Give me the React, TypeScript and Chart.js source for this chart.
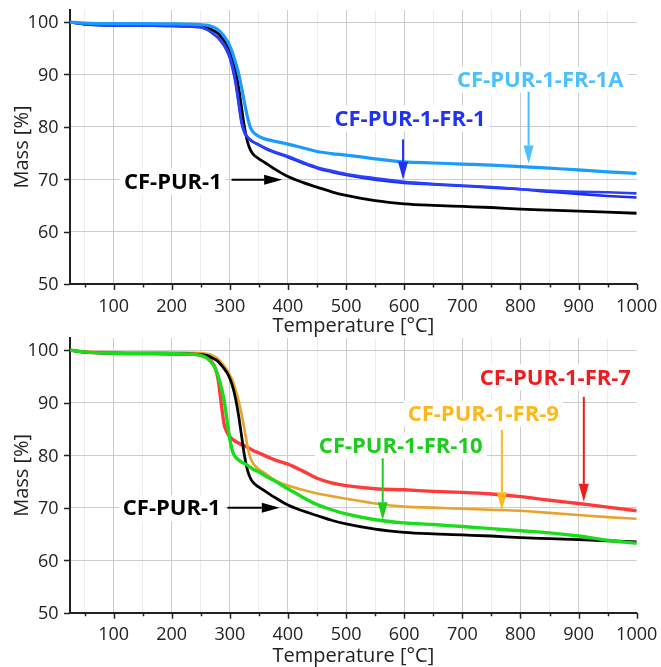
import React, { useEffect, useRef } from "react";
import { Chart, registerables } from "chart.js";

Chart.register(...registerables);

// ---- data ----
const temps = [25, 50, 100, 150, 200, 230, 250, 260, 270, 275, 280, 285, 290, 295, 300, 305, 310, 315, 320, 325, 330, 335, 340, 350, 360, 375, 400, 425, 450, 475, 500, 550, 600, 650, 700, 750, 800, 850, 900, 950, 1000];

const massPUR1 = [100, 99.6, 99.4, 99.35, 99.3, 99.25, 99.2, 99.0, 98.5, 98.2, 97.8, 97.2, 96.5, 95.7, 94.6, 93.0, 90.7, 87.6, 83.8, 80.0, 77.3, 75.7, 74.8, 73.9, 73.2, 72.1, 70.5, 69.4, 68.5, 67.6, 66.9, 65.9, 65.3, 65.0, 64.8, 64.6, 64.3, 64.1, 63.9, 63.7, 63.5];

const massFR1a = [100, 99.6, 99.35, 99.3, 99.25, 99.15, 99.0, 98.6, 97.9, 97.5, 97.0, 96.4, 95.7, 94.8, 93.5, 91.4, 88.6, 85.0, 81.2, 79.1, 78.1, 77.6, 77.2, 76.6, 76.0, 75.3, 74.4, 73.3, 72.3, 71.6, 71.0, 70.2, 69.5, 69.1, 68.8, 68.5, 68.1, 67.8, 67.6, 67.5, 67.3];

const massFR1b = [100, 99.6, 99.35, 99.3, 99.25, 99.15, 99.0, 98.6, 97.9, 97.5, 97.0, 96.3, 95.5, 94.5, 93.1, 91.0, 88.2, 84.5, 80.8, 78.9, 78.0, 77.5, 77.1, 76.5, 75.9, 75.2, 74.2, 73.1, 72.1, 71.4, 70.8, 69.9, 69.3, 69.0, 68.7, 68.4, 68.1, 67.6, 67.2, 66.8, 66.5];

const massFR1A = [100, 99.8, 99.7, 99.7, 99.65, 99.6, 99.5, 99.4, 99.1, 98.9, 98.5, 98.0, 97.3, 96.5, 95.4, 94.0, 92.2, 90.2, 87.6, 84.7, 82.0, 80.0, 79.0, 78.2, 77.7, 77.3, 76.7, 76.0, 75.3, 74.9, 74.6, 73.9, 73.3, 73.1, 72.9, 72.7, 72.4, 72.1, 71.8, 71.4, 71.1];

const massFR7 = [100, 99.6, 99.4, 99.35, 99.3, 99.2, 99.0, 98.6, 97.6, 96.6, 94.3, 90.0, 86.0, 84.4, 83.5, 83.0, 82.6, 82.3, 82.0, 81.8, 81.5, 81.2, 80.9, 80.4, 79.9, 79.2, 78.3, 77.0, 75.6, 74.7, 74.2, 73.6, 73.4, 73.1, 72.9, 72.6, 72.1, 71.4, 70.8, 70.1, 69.4];

const massFR9 = [100, 99.7, 99.6, 99.6, 99.55, 99.5, 99.45, 99.3, 99.0, 98.7, 98.3, 97.7, 97.0, 96.2, 95.3, 94.1, 92.4, 90.4, 87.9, 85.0, 81.9, 79.6, 78.4, 77.3, 76.6, 75.4, 74.2, 73.4, 72.7, 72.2, 71.7, 70.8, 70.2, 70.0, 69.8, 69.6, 69.4, 69.0, 68.6, 68.2, 67.9];

const massFR10 = [100, 99.6, 99.4, 99.35, 99.3, 99.2, 99.0, 98.5, 97.4, 96.5, 95.0, 93.0, 90.5, 86.8, 83.0, 80.6, 79.6, 79.1, 78.7, 78.4, 78.1, 77.7, 77.3, 76.8, 76.1, 75.2, 73.6, 72.0, 70.6, 69.6, 68.8, 67.7, 67.1, 66.8, 66.4, 66.0, 65.6, 65.2, 64.6, 63.8, 63.2];

const xTickValues = [50, 100, 150, 200, 250, 300, 350, 400, 450, 500, 550, 600, 650, 700, 750, 800, 850, 900, 950, 1000];
const yTickValues = [50, 60, 70, 80, 90, 100];

const xTitle = "Temperature [°C]";
const yTitle = "Mass [%]";

// annotations (text, anchor in data coords, arrow in data coords)
const topNotes = [
  { text: "CF-PUR-1", color: "#000000", x: 202, y: 69.6, from: [303, 69.9], to: [390, 69.9] },
  { text: "CF-PUR-1-FR-1", color: "#1f33f0", x: 610, y: 81.6, from: [598, 77.6], to: [598, 69.9] },
  { text: "CF-PUR-1-FR-1A", color: "#4cbfff", x: 834, y: 89.0, from: [814, 86.7], to: [814, 73.0] },
];
const bottomNotes = [
  { text: "CF-PUR-1", color: "#000000", x: 200, y: 69.9, from: [296, 70.0], to: [386, 70.0] },
  { text: "CF-PUR-1-FR-10", color: "#1ecc1e", x: 594, y: 81.8, from: [563, 79.4], to: [563, 67.6] },
  { text: "CF-PUR-1-FR-9", color: "#ffb81c", x: 736, y: 87.9, from: [768, 84.8], to: [768, 69.5] },
  { text: "CF-PUR-1-FR-7", color: "#ee1c1c", x: 860, y: 94.8, from: [909, 91.1], to: [909, 71.1] },
];

const FONT = '"Open Sans", "DejaVu Sans", sans-serif';

function toPts(vals: number[]) {
  return temps.map((t, i) => ({ x: t, y: vals[i] }));
}

function ds(label: string, vals: number[], color: string, width: number) {
  return {
    label,
    data: toPts(vals),
    borderColor: color,
    backgroundColor: color,
    borderWidth: width,
    pointRadius: 0,
    fill: false,
    cubicInterpolationMode: "monotone" as const,
  };
}

const overlayPlugin = {
  id: "overlay",
  beforeDatasetsDraw(chart: any, _a: any, opts: any) {
    const ctx = chart.ctx;
    const xs = chart.scales.x;
    const ys = chart.scales.y;
    ctx.save();
    ctx.font = `bold 22px ${FONT}`;
    for (const n of opts.notes || []) {
      const px = xs.getPixelForValue(n.x);
      const py = ys.getPixelForValue(n.y);
      const w = ctx.measureText(n.text).width;
      ctx.fillStyle = "#ffffff";
      ctx.fillRect(px - w / 2 - 4, py - 13, w + 8, 26);
    }
    ctx.restore();
  },
  afterDatasetsDraw(chart: any, _a: any, opts: any) {
    const ctx = chart.ctx;
    const xs = chart.scales.x;
    const ys = chart.scales.y;
    ctx.save();
    ctx.font = `bold 22px ${FONT}`;
    ctx.textAlign = "center";
    ctx.textBaseline = "middle";
    for (const n of opts.notes || []) {
      const px = xs.getPixelForValue(n.x);
      const py = ys.getPixelForValue(n.y);
      ctx.fillStyle = n.color;
      ctx.fillText(n.text, px, py + 1);
      const x1 = xs.getPixelForValue(n.from[0]);
      const y1 = ys.getPixelForValue(n.from[1]);
      const x2 = xs.getPixelForValue(n.to[0]);
      const y2 = ys.getPixelForValue(n.to[1]);
      const ang = Math.atan2(y2 - y1, x2 - x1);
      const hl = 18;
      const hw = 5;
      const bx = x2 - hl * Math.cos(ang);
      const by = y2 - hl * Math.sin(ang);
      ctx.strokeStyle = n.color;
      ctx.lineWidth = 2;
      ctx.beginPath();
      ctx.moveTo(x1, y1);
      ctx.lineTo(bx, by);
      ctx.stroke();
      ctx.beginPath();
      ctx.moveTo(x2, y2);
      ctx.lineTo(bx + hw * Math.sin(ang), by - hw * Math.cos(ang));
      ctx.lineTo(bx - hw * Math.sin(ang), by + hw * Math.cos(ang));
      ctx.closePath();
      ctx.fill();
    }
    ctx.restore();
  },
  afterDraw(chart: any, _a: any, opts: any) {
    const ctx = chart.ctx;
    const xs = chart.scales.x;
    const ys = chart.scales.y;
    const area = chart.chartArea;
    ctx.save();
    ctx.strokeStyle = "#222222";
    ctx.lineWidth = 1.5;
    ctx.beginPath();
    for (const v of xTickValues) {
      const px = Math.round(xs.getPixelForValue(v)) + 0.5;
      const len = v % 100 === 0 ? 6 : 3.5;
      ctx.moveTo(px, area.bottom);
      ctx.lineTo(px, area.bottom + len);
    }
    for (const v of yTickValues) {
      const py = Math.round(ys.getPixelForValue(v)) + 0.5;
      ctx.moveTo(area.left, py);
      ctx.lineTo(area.left - 6, py);
    }
    ctx.stroke();
    // tick labels
    ctx.fillStyle = "#222222";
    ctx.font = `18px ${FONT}`;
    ctx.textBaseline = "alphabetic";
    ctx.textAlign = "center";
    for (const v of xTickValues) {
      if (v % 100 !== 0) continue;
      ctx.fillText(String(v), xs.getPixelForValue(v), area.bottom + 27.5);
    }
    ctx.textAlign = "right";
    for (const v of yTickValues) {
      ctx.fillText(String(v), 58.5, ys.getPixelForValue(v) + 6.4);
    }
    // titles
    ctx.font = `20px ${FONT}`;
    ctx.textAlign = "center";
    ctx.fillText(xTitle, (area.left + area.right) / 2, area.bottom + opts.xTitleOffset);
    ctx.translate(27.5, (area.top + area.bottom) / 2);
    ctx.rotate(-Math.PI / 2);
    ctx.fillText(yTitle, 0, 0);
    ctx.restore();
  },
};

function makeConfig(datasets: any[], notes: any[], padTop: number, xHeight: number, xTitleOffset: number) {
  return {
    type: "line" as const,
    data: { datasets },
    plugins: [overlayPlugin],
    options: {
      responsive: false,
      animation: false as const,
      devicePixelRatio: 1,
      layout: { padding: { top: padTop, right: 24.3, left: 0, bottom: 0 } },
      plugins: {
        legend: { display: false },
        tooltip: { enabled: false },
        overlay: { notes, xTitleOffset },
      },
      scales: {
        x: {
          type: "linear" as const,
          min: 25,
          max: 1000,
          afterBuildTicks: (s: any) => {
            s.ticks = xTickValues.map((v) => ({ value: v }));
          },
          afterFit: (s: any) => {
            s.height = xHeight;
          },
          ticks: { display: false },
          grid: {
            drawTicks: false,
            lineWidth: 1,
            color: (c: any) => {
              const v = c.tick ? c.tick.value : 0;
              if (v === 1000) return "rgba(0,0,0,0)";
              return v % 100 === 0 ? "#cccccc" : "#ededed";
            },
          },
          border: { display: true, color: "#222222", width: 2 },
        },
        y: {
          type: "linear" as const,
          min: 50,
          max: 102.3,
          afterBuildTicks: (s: any) => {
            s.ticks = yTickValues.map((v) => ({ value: v }));
          },
          afterFit: (s: any) => {
            s.width = 70;
          },
          ticks: { display: false },
          grid: {
            drawTicks: false,
            lineWidth: 1,
            color: (c: any) => (c.tick && c.tick.value === 50 ? "rgba(0,0,0,0)" : "#cccccc"),
          },
          border: { display: true, color: "#222222", width: 2 },
        },
      },
    },
  };
}

export default function App() {
  const topRef = useRef<HTMLCanvasElement>(null);
  const botRef = useRef<HTMLCanvasElement>(null);

  useEffect(() => {
    document.body.style.margin = "0";
    Chart.defaults.font.family = FONT;
    const topChart = new Chart(
      topRef.current as HTMLCanvasElement,
      makeConfig(
        [
          ds("CF-PUR-1-FR-1A", massFR1A, "#1a9cff", 3.2),
          ds("CF-PUR-1-FR-1 (a)", massFR1a, "#2a40ff", 2.6),
          ds("CF-PUR-1-FR-1 (b)", massFR1b, "#1c2ee6", 2.6),
          ds("CF-PUR-1", massPUR1, "#000000", 2.8),
        ],
        topNotes,
        10,
        56,
        48
      ) as any
    );
    const botChart = new Chart(
      botRef.current as HTMLCanvasElement,
      makeConfig(
        [
          ds("CF-PUR-1-FR-10", massFR10, "#18dd18", 3.4),
          ds("CF-PUR-1", massPUR1, "#000000", 2.8),
          ds("CF-PUR-1-FR-9", massFR9, "#e8a32c", 2.6),
          ds("CF-PUR-1-FR-7", massFR7, "#ff3a3a", 3.4),
        ],
        bottomNotes,
        5,
        54.3,
        49.5
      ) as any
    );
    return () => {
      topChart.destroy();
      botChart.destroy();
    };
  }, []);

  return (
    <div style={{ position: "fixed", left: 0, top: 0, width: 661, height: 667, background: "#ffffff" }}>
      <canvas ref={topRef} width={661} height={340} style={{ position: "absolute", left: 0, top: 0, width: 661, height: 340 }} />
      <canvas ref={botRef} width={661} height={334} style={{ position: "absolute", left: 0, top: 333, width: 661, height: 334 }} />
    </div>
  );
}
